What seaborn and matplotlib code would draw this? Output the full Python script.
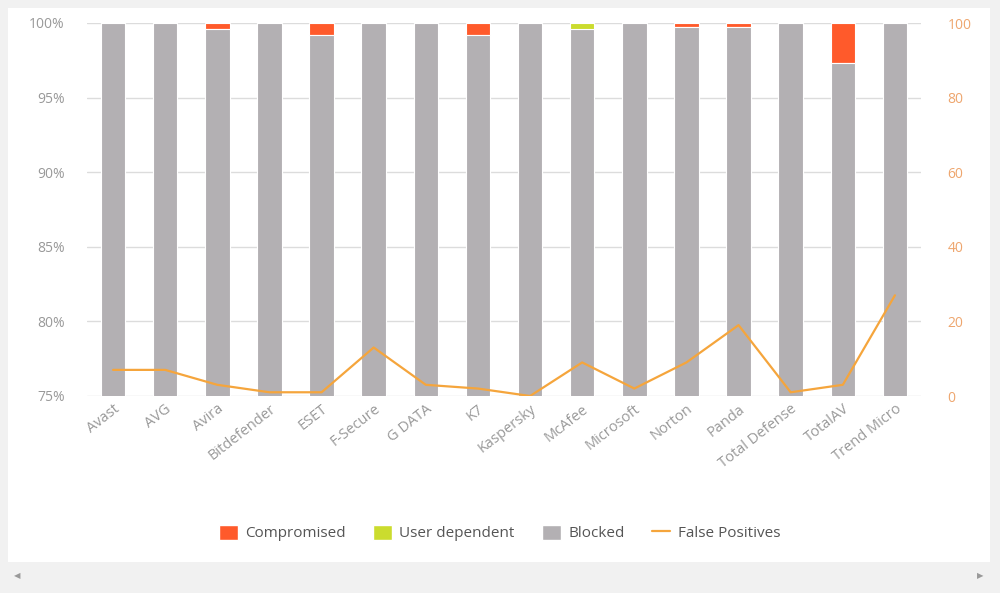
import numpy as np
import matplotlib
matplotlib.use("Agg")
import matplotlib.pyplot as plt
import seaborn as sns
from matplotlib.patches import Patch, Rectangle
from matplotlib.lines import Line2D
from matplotlib.ticker import FuncFormatter

# values
vendors = ["Avast", "AVG", "Avira", "Bitdefender", "ESET", "F-Secure", "G DATA", "K7",
           "Kaspersky", "McAfee", "Microsoft", "Norton", "Panda", "Total Defense",
           "TotalAV", "Trend Micro"]
blocked = [100, 100, 99.6, 100, 99.2, 100, 100, 99.2, 100, 99.6, 100, 99.7, 99.7, 100, 97.3, 100]
user_dependent = [0, 0, 0, 0, 0, 0, 0, 0, 0, 0.4, 0, 0, 0, 0, 0, 0]
compromised = [0, 0, 0.4, 0, 0.8, 0, 0, 0.8, 0, 0, 0, 0.3, 0.3, 0, 2.7, 0]
false_positives = [7, 7, 3, 1, 1, 13, 3, 2, 0, 9, 2, 9, 19, 1, 3, 27]

c_comp = "#ff5a2b"
c_user = "#cbdc2e"
c_block = "#b3b0b3"
c_line = "#f5a53c"
c_text = "#999999"
c_right = "#eea66e"

sns.set_theme(style="white")
plt.rcParams["font.family"] = ["Open Sans", "DejaVu Sans"]

fig = plt.figure(figsize=(10, 5.93), dpi=100, facecolor="#f1f1f1")
fig.patches.append(Rectangle((0.008, 0.052), 0.982, 0.935, transform=fig.transFigure,
                             facecolor="white", edgecolor="none", zorder=-10))
ax = fig.add_axes([0.087, 1 - 396 / 593, 0.834, (396 - 23) / 593])
ax.set_facecolor("none")

# layered stacks: total -> blocked + user -> blocked
stack_user = np.array(blocked) + np.array(user_dependent)
stack_total = stack_user + np.array(compromised)
for heights, col in [(stack_total, c_comp), (stack_user, c_user), (blocked, c_block)]:
    sns.barplot(x=vendors, y=heights, color=col, saturation=1, width=0.47, errorbar=None,
                edgecolor="white", linewidth=0.8, ax=ax, zorder=2)

ax.set_ylim(75, 100)
ax.set_yticks([75, 80, 85, 90, 95, 100])
ax.yaxis.set_major_formatter(FuncFormatter(lambda v, p: f"{v:.0f}%"))
ax.yaxis.grid(True, color="#dcdcdc", linewidth=1, zorder=0)
ax.set_axisbelow(True)
for s in ax.spines.values():
    s.set_visible(False)
ax.tick_params(axis="y", length=0, pad=16, labelsize=10, labelcolor=c_text)
ax.tick_params(axis="x", length=0, pad=4, labelsize=10.5, labelcolor=c_text)
ax.set_xticks(range(len(vendors)))
ax.set_xticklabels(vendors, rotation=38, ha="right", va="top", rotation_mode="anchor")
ax.set_xlabel("")
ax.set_ylabel("")

ax2 = ax.twinx()
sns.lineplot(x=np.arange(len(vendors)), y=false_positives, color=c_line, linewidth=1.6, ax=ax2)
ax2.set_ylim(0, 100)
ax2.set_yticks([0, 20, 40, 60, 80, 100])
ax2.tick_params(axis="y", length=0, pad=19, labelsize=10, labelcolor=c_right)
for s in ax2.spines.values():
    s.set_visible(False)
ax2.grid(False)
ax2.set_ylabel("")
ax.set_xlim(-0.5, len(vendors) - 0.5)

handles = [Patch(facecolor=c_comp), Patch(facecolor=c_user), Patch(facecolor=c_block),
           Line2D([0], [0], color=c_line, linewidth=1.6)]
labels = ["Compromised", "User dependent", "Blocked", "False Positives"]
fig.legend(handles, labels, loc="center", bbox_to_anchor=(0.5, 1 - 533 / 593), ncol=4,
           frameon=False, fontsize=11, labelcolor="#555555", handlelength=1.2,
           handleheight=1.2, handletextpad=0.5, columnspacing=1.8)

# scrollbar arrows
fig.text(0.017, 1 - 576 / 593, "\u25c0", fontsize=6, color="#999999", ha="center",
         va="center", family="DejaVu Sans")
fig.text(0.980, 1 - 576 / 593, "\u25b6", fontsize=6, color="#999999", ha="center",
         va="center", family="DejaVu Sans")

fig.savefig("out.png", dpi=100, facecolor=fig.get_facecolor())
